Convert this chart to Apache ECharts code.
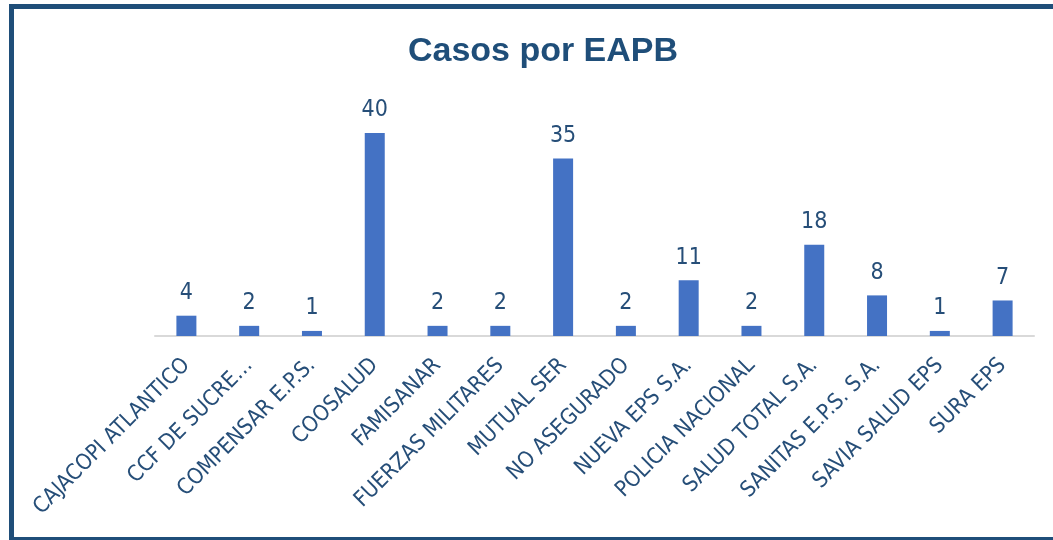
<!DOCTYPE html>
<html>
<head>
<meta charset="utf-8">
<script src="https://cdn.jsdelivr.net/npm/echarts@6/dist/echarts.min.js"></script>
<style>
  html, body { margin: 0; padding: 0; background: #fff; }
  #chart { width: 1053px; height: 540px; }
</style>
</head>
<body>
<div id="chart"></div>
<script>
const categories = [
  'CAJACOPI ATLANTICO', 'CCF DE SUCRE…', 'COMPENSAR E.P.S.', 'COOSALUD',
  'FAMISANAR', 'FUERZAS MILITARES', 'MUTUAL SER', 'NO ASEGURADO',
  'NUEVA EPS S.A.', 'POLICIA NACIONAL', 'SALUD TOTAL S.A.', 'SANITAS E.P.S. S.A.',
  'SAVIA SALUD EPS', 'SURA EPS'
]
const casos = [4, 2, 1, 40, 2, 2, 35, 2, 11, 2, 18, 8, 1, 7]

const dark = '#1F4E79'
const narrow = "'Liberation Sans Narrow', 'DejaVu Sans Condensed', sans-serif"
const chart = echarts.init(document.getElementById('chart'))
chart.setOption({
  animation: false,
  title: {
    text: 'Casos por EAPB',
    left: 538,
    top: 30,
    textAlign: 'center',
    textStyle: { fontFamily: 'Liberation Sans', fontSize: 34, fontWeight: 'bold', color: dark }
  },
  graphic: [
    {
      type: 'rect',
      shape: { x: 11.5, y: 6.5, width: 1100, height: 533 },
      style: { fill: 'none', stroke: dark, lineWidth: 5 }
    }
  ],
  grid: { left: 155, right: 19, top: 133, bottom: 204 },
  xAxis: {
    type: 'category',
    data: categories,
    axisLine: { lineStyle: { color: '#D9D9D9', width: 2 } },
    axisTick: { show: false },
    axisLabel: {
      rotate: 45,
      interval: 0,
      margin: 26,
      color: '#264E78',
      fontFamily: narrow,
      fontSize: 22
    }
  },
  yAxis: {
    type: 'value',
    min: 0,
    max: 40,
    show: false,
    splitLine: { show: false }
  },
  series: [
    {
      type: 'bar',
      data: casos,
      barWidth: 20,
      itemStyle: { color: '#4472C4' },
      label: {
        show: true,
        position: 'top',
        distance: 11,
        color: '#264E78',
        fontFamily: narrow,
        fontSize: 23
      }
    }
  ]
})
</script>
</body>
</html>
